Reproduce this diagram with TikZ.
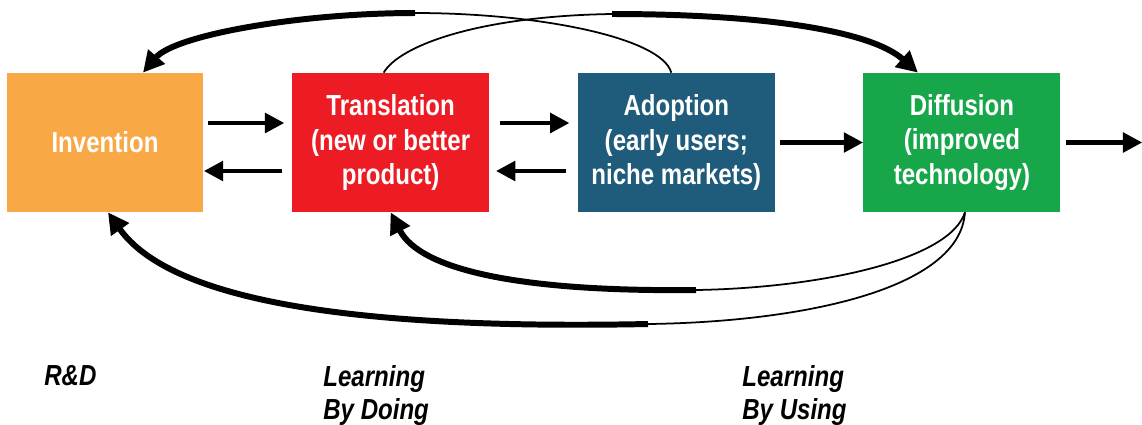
\documentclass[tikz,border=0pt]{standalone}
\usepackage{fontspec}
\setmainfont{Liberation Sans}[FakeStretch=0.83]
\usetikzlibrary{arrows.meta,positioning}

\definecolor{invention_orange}{HTML}{F9A846}
\definecolor{translation_red}{HTML}{ED1C24}
\definecolor{adoption_blue}{HTML}{1F5B7A}
\definecolor{diffusion_green}{HTML}{17A74A}

\tikzset{
    % Le style pour les boites des etapes
    process_box/.style={
        minimum width=3.94cm,
        minimum height=2.78cm,
        inner sep=2pt,
        align=center,
        text=white,
        font=\bfseries\fontsize{16.5}{19.5}\selectfont
    },
    % Les fleches droites entre les etapes
    flow_arrow/.style={
        line width=2.6pt,
        -{Triangle[length=11pt,width=11pt]}
    },
    % Les boucles de retour : partie fine, puis partie epaisse avec la pointe
    feedback_thin/.style={line width=1pt},
    feedback_thick/.style={
        line width=3.4pt,
        -{Triangle[length=12pt,width=12pt]}
    },
    % Les textes sous le schema
    stage_label/.style={
        font=\bfseries\itshape\fontsize{16.5}{18.7}\selectfont,
        align=left,
        anchor=north west,
        inner sep=0pt
    }
}

\begin{document}
\begin{tikzpicture}[x=0.02cm,y=-0.02cm]

    \useasboundingbox (0,0) rectangle (1142,424);

    % --- 1. Les quatre etapes ---
    \node[process_box, fill=invention_orange] (invention) at (105,142.5) {Invention};
    \node[process_box, fill=translation_red, right=1.76cm of invention] (translation)
        {Translation\\(new or better\\product)};
    \node[process_box, fill=adoption_blue, right=1.76cm of translation] (adoption)
        {Adoption\\(early users;\\niche markets)};
    \node[process_box, fill=diffusion_green, right=1.76cm of adoption] (diffusion)
        {Diffusion\\(improved\\technology)};
    \coordinate[right=1.63cm of diffusion.east] (sortie);

    % --- 2. Les fleches entre les etapes ---
    \draw[flow_arrow, shorten <=0.09cm, shorten >=0.15cm]
        ([yshift=0.39cm]invention.east) -- ([yshift=0.39cm]translation.west);
    \draw[flow_arrow, shorten <=0.2cm]
        ([yshift=-0.57cm]translation.west) -- ([yshift=-0.57cm]invention.east);
    \draw[flow_arrow, shorten <=0.22cm, shorten >=0.16cm]
        ([yshift=0.39cm]translation.east) -- ([yshift=0.39cm]adoption.west);
    \draw[flow_arrow, shorten <=0.23cm, shorten >=0.13cm]
        ([yshift=-0.57cm]adoption.west) -- ([yshift=-0.57cm]translation.east);
    \draw[flow_arrow, shorten <=0.09cm] (adoption.east) -- (diffusion.west);
    \draw[flow_arrow, shorten <=0.11cm] (diffusion.east) -- (sortie);

    % --- 3. Les boucles de retour ---
    % Points ou le trait fin devient epais
    \coordinate (haut_gauche) at (415,13);
    \coordinate (haut_droite) at (612,14);
    \coordinate (bas_externe) at (648,324);
    \coordinate (bas_interne) at (696,290);

    % Adoption vers Invention, par le haut
    \draw[feedback_thin] ([xshift=-0.1cm]adoption.north)
        .. controls (662,38) and (540,13) .. (haut_gauche);
    \draw[feedback_thick] (haut_gauche)
        .. controls (300,13) and (175,35) .. ([xshift=0.76cm]invention.north);

    % Translation vers Diffusion, par le haut
    \draw[feedback_thin] ([xshift=-0.14cm]translation.north)
        .. controls (400,45) and (480,16) .. (haut_droite);
    \draw[feedback_thick] (haut_droite)
        .. controls (760,14) and (870,30) .. ([xshift=-0.88cm]diffusion.north);

    % Diffusion vers Invention et Translation, par le bas
    \draw[feedback_thin] ([xshift=0.06cm]diffusion.south)
        .. controls (960,290) and (800,322) .. (bas_externe);
    \draw[feedback_thick] (bas_externe)
        .. controls (350,330) and (170,300) .. ([xshift=0.06cm]invention.south);
    \draw[feedback_thin] ([xshift=0.06cm]diffusion.south)
        .. controls (950,260) and (820,288) .. (bas_interne);
    \draw[feedback_thick] (bas_interne)
        .. controls (520,292) and (420,270) .. (translation.south);

    % --- 4. Les textes du bas ---
    \node[stage_label] (rd) at (44,365) {R\&D};
    \node[stage_label] (doing) at (323,365) {Learning\\By Doing};
    \node[stage_label] (using) at (742,365) {Learning\\By Using};

\end{tikzpicture}
\end{document}
